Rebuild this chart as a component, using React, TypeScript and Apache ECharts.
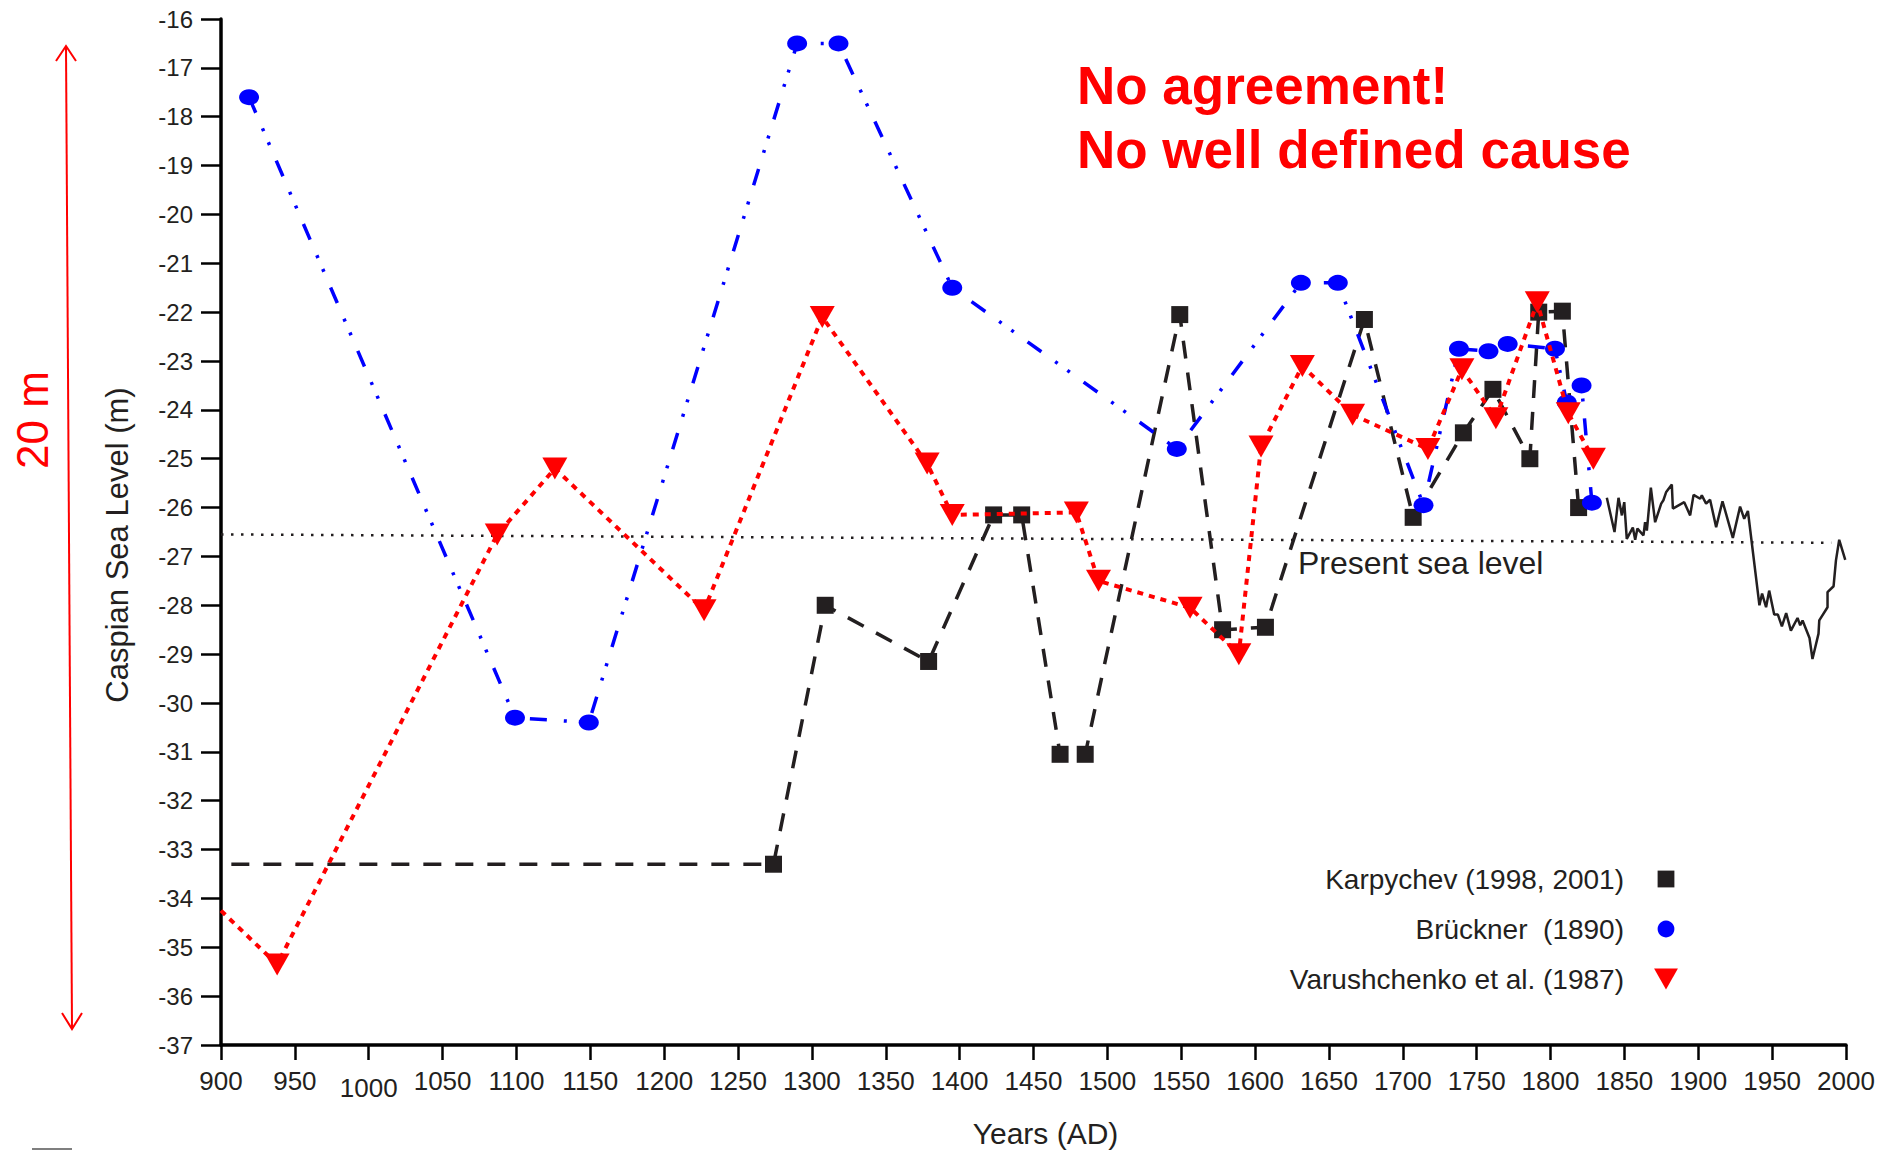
import React, { useEffect, useRef } from "react";
import * as echarts from "echarts";

// ---- Data ----
const karpYears = [907, 1274, 1309, 1379, 1423, 1442, 1468, 1485, 1549, 1578, 1607, 1674, 1707, 1741, 1761, 1786, 1792, 1808, 1819];
const karpLevels = [-33.3, -33.3, -28.0, -29.15, -26.15, -26.15, -31.05, -31.05, -22.05, -28.5, -28.45, -22.15, -26.2, -24.47, -23.58, -25.0, -22.0, -21.98, -26.0];

const bruckYears = [919, 1099, 1149, 1290, 1318, 1395, 1547, 1631, 1656, 1714, 1738, 1758, 1771, 1803, 1811, 1821, 1828];
const bruckLevels = [-17.6, -30.3, -30.4, -16.5, -16.5, -21.5, -24.8, -21.4, -21.4, -25.95, -22.75, -22.8, -22.65, -22.75, -23.85, -23.5, -25.9];

const varYears = [900, 938, 1087, 1126, 1227, 1307, 1378, 1395, 1479, 1494, 1556, 1589, 1604, 1632, 1666, 1717, 1740, 1763, 1791, 1812, 1829];
const varLevels = [-34.25, -35.35, -26.55, -25.2, -28.1, -22.1, -25.1, -26.15, -26.1, -27.5, -28.05, -29.0, -24.75, -23.1, -24.1, -24.8, -23.17, -24.17, -21.8, -24.07, -25.0];

const instYears = [1838.1, 1843.3, 1846.0, 1848.3, 1849.9, 1851.6, 1855.7, 1857.3, 1858.8, 1862.9, 1864.0, 1865.2, 1867.9, 1870.8, 1874.9, 1876.4, 1878.3, 1882.1, 1882.8, 1890.5, 1894.5, 1896.8, 1901.3, 1902.4, 1905.3, 1908.0, 1912.1, 1916.4, 1923.4, 1928.3, 1931.1, 1933.6, 1941.4, 1943.2, 1945.9, 1948.0, 1951.4, 1953.9, 1956.6, 1959.5, 1962.7, 1967.2, 1969.0, 1970.6, 1975.3, 1977.3, 1981.4, 1981.9, 1987.5, 1987.5, 1991.6, 1993.2, 1995.4, 1999.5];
const instLevels = [-25.80, -26.50, -25.80, -26.16, -25.89, -26.64, -26.41, -26.66, -26.43, -26.57, -26.30, -26.47, -25.59, -26.30, -25.92, -25.85, -25.68, -25.53, -26.02, -25.89, -26.16, -25.74, -25.82, -25.75, -25.92, -25.84, -26.40, -25.87, -26.62, -25.98, -26.23, -26.07, -28.00, -27.76, -28.04, -27.70, -28.19, -28.19, -28.43, -28.16, -28.52, -28.26, -28.41, -28.31, -28.67, -29.10, -28.58, -28.31, -28.04, -27.73, -27.61, -27.08, -26.66, -27.07];

const seaYears = [900, 1990];
const seaLevels = [-26.55, -26.72];

const seriesNames = ["Karpychev (1998, 2001)", "Brückner  (1890)", "Varushchenko et al. (1987)"];
const titleLines = ["No agreement!", "No well defined cause"];
const presentLabel = "Present sea level";
const rangeLabel = "20 m";
const xName = "Years (AD)";
const yName = "Caspian Sea Level (m)";

const FONT = "'Liberation Sans', Arial, sans-serif";
const NARROW = "'Liberation Sans Narrow', 'Arial Narrow', 'Liberation Sans', sans-serif";
const INK = "#231f20";

function pairs(xs: number[], ys: number[], hideFirst: boolean) {
  return ys.map((y, i) =>
    hideFirst && i === 0 ? { value: [xs[i], y], symbol: "none" } : [xs[i], y]
  );
}

export default function App() {
  const ref = useRef<HTMLDivElement>(null);

  useEffect(() => {
    if (!ref.current) return;
    const chart = echarts.init(ref.current, null, { renderer: "svg" });
    const option: any = {
      animation: false,
      backgroundColor: "#ffffff",
      grid: { left: 221, right: 42, top: 19, bottom: 107 },
      legend: {
        data: [
          { name: seriesNames[0] },
          { name: seriesNames[1] },
          { name: seriesNames[2], icon: "path://M0,0L25,0L12.5,22Z" },
        ],
        orient: "vertical",
        right: 204,
        top: 860,
        align: "right",
        itemWidth: 26,
        itemHeight: 21,
        itemGap: 22,
        symbolKeepAspect: true,
        lineStyle: { width: 0, opacity: 0 },
        textStyle: { fontFamily: FONT, fontSize: 28, lineHeight: 27, color: INK, padding: [0, 24, 0, 0] },
      },
      xAxis: {
        type: "value",
        min: 900,
        max: 2000,
        interval: 50,
        name: xName,
        nameLocation: "middle",
        nameGap: 73,
        nameTextStyle: { fontFamily: NARROW, fontSize: 30, color: INK, padding: [0, 0, 0, 24] },
        axisLine: { onZero: false, lineStyle: { color: "#000", width: 3.5 } },
        axisTick: { length: 15, lineStyle: { color: "#000", width: 2.5 } },
        axisLabel: {
          margin: 23,
          fontFamily: NARROW,
          fontSize: 26,
          color: INK,
          formatter: (v: number) => (v === 1000 ? "{low|1000}" : String(v)),
          rich: { low: { fontFamily: NARROW, fontSize: 26, color: INK, padding: [7, 0, 0, 0] } },
        },
        splitLine: { show: false },
      },
      yAxis: {
        type: "value",
        min: -37,
        max: -16,
        interval: 1,
        name: yName,
        nameLocation: "middle",
        nameGap: 88,
        nameTextStyle: { fontFamily: FONT, fontSize: 31, color: INK, padding: [0, 26, 0, 0] },
        axisLine: { onZero: false, lineStyle: { color: "#000", width: 3.5 } },
        axisTick: { length: 20, lineStyle: { color: "#000", width: 2.5 } },
        axisLabel: { margin: 28, fontFamily: FONT, fontSize: 24, color: INK },
        splitLine: { show: false },
      },
      series: [
        {
          name: seriesNames[0],
          type: "line",
          data: pairs(karpYears, karpLevels, true),
          symbol: "rect",
          symbolSize: 17,
          itemStyle: { color: INK },
          lineStyle: { color: INK, width: 3.5, type: [18, 14] },
          z: 3,
        },
        {
          name: seriesNames[1],
          type: "line",
          data: pairs(bruckYears, bruckLevels, false),
          symbol: "circle",
          symbolSize: [20, 16],
          itemStyle: { color: "#0000ff" },
          lineStyle: { color: "#0000ff", width: 3.5, type: [17, 17, 3, 12, 3, 17] },
          z: 4,
        },
        {
          name: seriesNames[2],
          type: "line",
          data: pairs(varYears, varLevels, true),
          symbol: "triangle",
          symbolRotate: 180,
          symbolSize: [25, 22],
          itemStyle: { color: "#ff0000" },
          lineStyle: { color: "#ff0000", width: 4, type: [6, 6] },
          z: 5,
        },
        {
          name: "instrumental",
          type: "line",
          data: pairs(instYears, instLevels, false),
          symbol: "none",
          lineStyle: { color: INK, width: 2.5 },
          z: 2,
        },
        {
          name: "present",
          type: "line",
          data: pairs(seaYears, seaLevels, false),
          symbol: "none",
          lineStyle: { color: INK, width: 2.5, type: [2.5, 7.5] },
          z: 1,
        },
      ],
      graphic: [
        {
          type: "text",
          x: 1077,
          y: 85,
          style: { text: titleLines[0], fontFamily: FONT, fontSize: 53, fontWeight: "bold", fill: "#ff0000", textAlign: "left", textVerticalAlign: "middle" },
        },
        {
          type: "text",
          x: 1077,
          y: 149,
          style: { text: titleLines[1], fontFamily: FONT, fontSize: 53, fontWeight: "bold", fill: "#ff0000", textAlign: "left", textVerticalAlign: "middle" },
        },
        {
          type: "text",
          x: 1298,
          y: 563,
          style: { text: presentLabel, fontFamily: FONT, fontSize: 32, fill: INK, textAlign: "left", textVerticalAlign: "middle" },
        },
        {
          type: "text",
          x: 32,
          y: 420,
          rotation: Math.PI / 2,
          style: { text: rangeLabel, fontFamily: FONT, fontSize: 44, fill: "#ff0000", textAlign: "center", textVerticalAlign: "middle" },
        },
        {
          type: "line",
          shape: { x1: 66, y1: 46, x2: 72, y2: 1029 },
          style: { stroke: "#ff0000", lineWidth: 2 },
        },
        {
          type: "polyline",
          shape: { points: [[56, 61], [66, 46], [76, 61]] },
          style: { stroke: "#ff0000", lineWidth: 2, fill: null },
        },
        {
          type: "polyline",
          shape: { points: [[62, 1013], [72, 1029], [82, 1013]] },
          style: { stroke: "#ff0000", lineWidth: 2, fill: null },
        },
        {
          type: "line",
          shape: { x1: 32, y1: 1149, x2: 72, y2: 1149 },
          style: { stroke: "#555555", lineWidth: 1.5 },
        },
      ],
    };
    chart.setOption(option);
    return () => chart.dispose();
  }, []);

  return (
    <div
      ref={ref}
      style={{ position: "fixed", left: 0, top: 0, width: 1888, height: 1153, background: "#fff" }}
    />
  );
}
